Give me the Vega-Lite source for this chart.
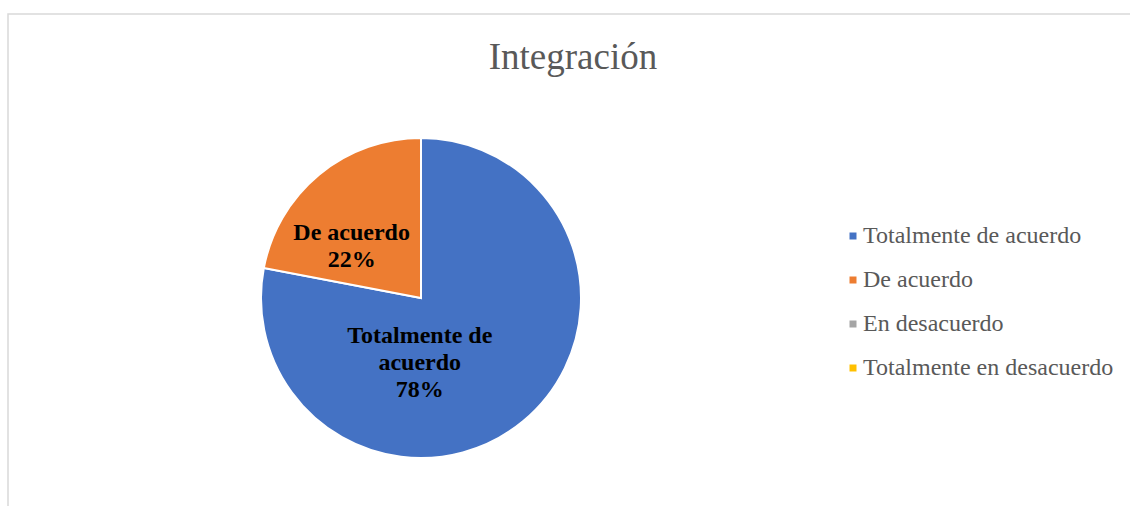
{
  "$schema": "https://vega.github.io/schema/vega-lite/v6.json",
  "width": 1130,
  "height": 506,
  "autosize": {"type": "none"},
  "padding": {"left": 8, "top": 14, "right": 0, "bottom": 0},
  "background": "white",
  "view": {"stroke": "#d9d9d9", "strokeWidth": 1.5},
  "title": {
    "text": "Integración",
    "font": "Liberation Serif",
    "fontSize": 37,
    "fontWeight": "normal",
    "color": "#595959",
    "anchor": "middle",
    "frame": "group",
    "baseline": "alphabetic",
    "offset": -92
  },
  "data": {
    "values": [
      {"cat": "Totalmente de acuerdo", "value": 78, "label": "Totalmente de\nacuerdo\n78%"},
      {"cat": "De acuerdo", "value": 22, "label": "De acuerdo\n22%"},
      {"cat": "En desacuerdo", "value": 0, "label": ""},
      {"cat": "Totalmente en desacuerdo", "value": 0, "label": ""}
    ]
  },
  "encoding": {
    "theta": {"field": "value", "type": "quantitative", "stack": true},
    "order": {"field": "value", "sort": "descending"}
  },
  "layer": [
    {
      "mark": {"type": "arc", "outerRadius": 160, "x": 413, "y": 284, "stroke": "white", "strokeWidth": 2},
      "encoding": {
        "color": {
          "field": "cat",
          "type": "nominal",
          "scale": {
            "domain": ["Totalmente de acuerdo", "De acuerdo", "En desacuerdo", "Totalmente en desacuerdo"],
            "range": ["#4472C4", "#ED7D31", "#A5A5A5", "#FFC000"]
          },
          "legend": {
            "title": null,
            "orient": "none",
            "legendX": 833,
            "legendY": 210,
            "symbolType": "square",
            "symbolSize": 49,
            "symbolStrokeWidth": 0,
            "labelFont": "Liberation Serif",
            "labelFontSize": 24,
            "labelColor": "#595959",
            "labelOffset": -2,
            "labelLimit": 400,
            "rowPadding": 20
          }
        }
      }
    },
    {
      "mark": {"type": "text", "x": 413, "y": 284, "radius": 64, "dx": -42, "dy": -11, "font": "Liberation Serif", "fontSize": 24, "fontWeight": "bold", "color": "black", "lineBreak": "\n", "lineHeight": 27, "baseline": "middle", "align": "center"},
      "encoding": {
        "detail": {"field": "cat", "type": "nominal"},
        "text": {"condition": {"test": "datum.cat === 'Totalmente de acuerdo'", "field": "label"}, "value": ""}
      }
    },
    {
      "mark": {"type": "text", "x": 413, "y": 284, "radius": 90, "dx": -12, "dy": 4, "font": "Liberation Serif", "fontSize": 24, "fontWeight": "bold", "color": "black", "lineBreak": "\n", "lineHeight": 27, "baseline": "middle", "align": "center"},
      "encoding": {
        "detail": {"field": "cat", "type": "nominal"},
        "text": {"condition": {"test": "datum.cat === 'De acuerdo'", "field": "label"}, "value": ""}
      }
    }
  ],
  "config": {
    "view": {"stroke": "#d9d9d9", "strokeWidth": 1.5}
  }
}
